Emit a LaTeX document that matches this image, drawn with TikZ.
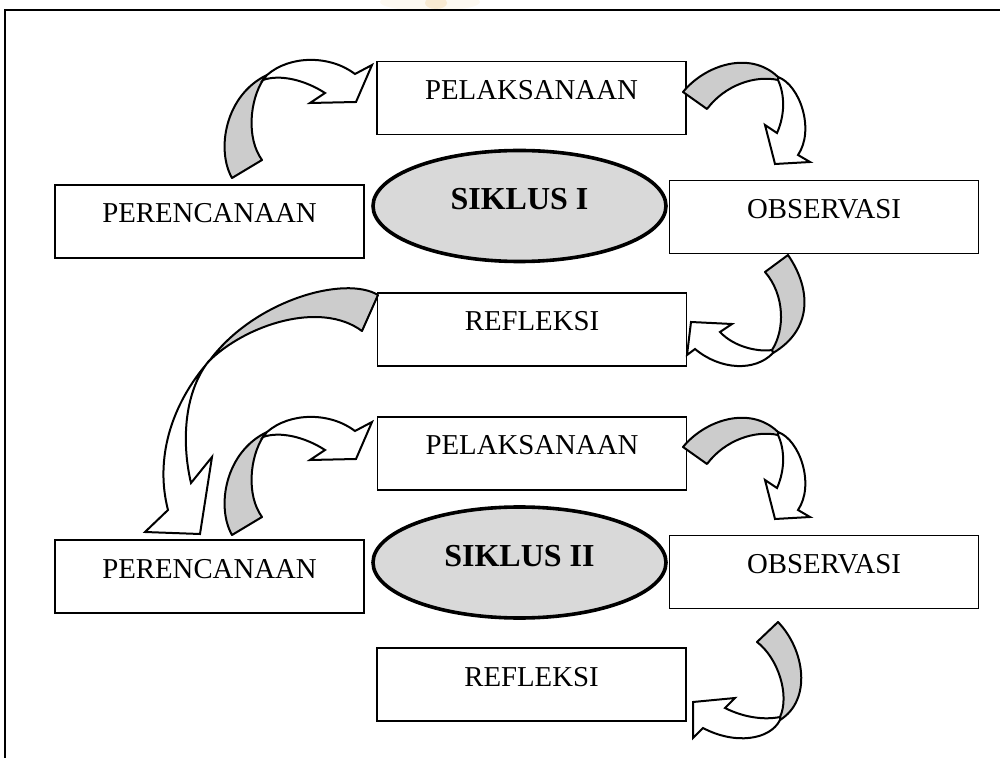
\documentclass[tikz,border=0pt]{standalone}
\usepackage{fontspec}
\setmainfont{Liberation Serif}
\usetikzlibrary{shapes.geometric}
\definecolor{ribbongrey}{RGB}{204,204,204}
\definecolor{ovalgrey}{RGB}{217,217,217}
\definecolor{markpale}{RGB}{253,249,241}
\definecolor{markgold}{RGB}{248,234,210}
\begin{document}
\begin{tikzpicture}[x=0.5pt,y=-0.5pt,
  stepbox/.style={draw, line width=0.8pt, inner sep=0pt,
    minimum width=154.5pt, text height=19pt, text depth=17.5pt,
    font=\fontsize{14.4}{17}\selectfont},
  oval/.style={ellipse, draw, line width=1.8pt, fill=ovalgrey, inner sep=0pt,
    minimum width=146.5pt, minimum height=55.5pt, text height=12pt, text depth=8pt,
    font=\fontsize{16}{19}\selectfont\bfseries},
  ribbonback/.style={draw, fill=ribbongrey, line width=1pt, line join=round},
  ribbonfront/.style={draw, fill=white, line width=1pt, line join=miter, miter limit=6}]
\useasboundingbox (0,0) rectangle (1000,758);
\clip (0,0) rectangle (1000,758);

% faint mark above the frame
\fill[markpale] (430,2) ellipse [x radius=50, y radius=9];
\fill[markgold] (436,3) ellipse [x radius=11, y radius=6];

% page frame
\draw[line width=1pt] (5,770) -- (5,10) -- (1010,10);

% cycle I
\node[stepbox] (pel1) at (531.5,98)  {PELAKSANAAN};
\node[stepbox] (per1) at (209.5,221.5) {PERENCANAAN};
\node[stepbox] (obs1) at (824,217)   {OBSERVASI};
\node[stepbox] (ref1) at (532,329.5) {REFLEKSI};
\node[oval]    (sik1) at (519.5,206) {SIKLUS I};

% cycle II
\node[stepbox] (pel2) at (532,453.5) {PELAKSANAAN};
\node[stepbox] (per2) at (209.5,576.5) {PERENCANAAN};
\node[stepbox] (obs2) at (824,572)   {OBSERVASI};
\node[stepbox] (ref2) at (531.5,684.5) {REFLEKSI};
\node[oval]    (sik2) at (519.5,562.5) {SIKLUS II};

% perencanaan -> pelaksanaan (both cycles)
\foreach \dy in {0,357}{
\begin{scope}[shift={(0,\dy)}]
\path[ribbonback] (232,178) .. controls (216,150) and (225,95) .. (267,75)
  -- (263,80) .. controls (250,100) and (246,138) .. (262,160) -- cycle;
\path[ribbonfront] (267,75) .. controls (290,55) and (330,55) .. (355,74)
  -- (372,65) -- (356,102) -- (310,103) -- (325,93)
  .. controls (305,80) and (280,74) .. (263,80) -- cycle;
\end{scope}}

% pelaksanaan -> observasi (both cycles)
\foreach \dy in {0,355}{
\begin{scope}[shift={(0,\dy)}]
\path[ribbonback] (683,92) .. controls (705,65) and (750,50) .. (778,77)
  -- (778,80) .. controls (755,75) and (725,85) .. (707,109) -- cycle;
\path[ribbonfront] (778,77) .. controls (800,85) and (815,130) .. (798,155)
  -- (810,162) -- (775,164) -- (765,125) -- (777,133)
  .. controls (785,115) and (785,95) .. (778,80) -- cycle;
\end{scope}}

% observasi -> refleksi, cycle I
\path[ribbonback] (765,272) -- (788,255) .. controls (812,290) and (812,330) .. (773,353)
  -- (772,350) .. controls (785,330) and (785,295) .. (765,272) -- cycle;
\path[ribbonfront] (773,353) .. controls (755,372) and (720,370) .. (695,349)
  -- (687,355) -- (691,322) -- (732,324) -- (720,332)
  .. controls (735,348) and (760,352) .. (772,350) -- cycle;

% refleksi I -> perencanaan II
\path[ribbonback] (378,295) .. controls (345,275) and (255,300) .. (210,360)
  -- (208,362) .. controls (245,325) and (320,300) .. (362,331) -- cycle;
\path[ribbonfront] (210,360) .. controls (170,405) and (155,460) .. (168,510)
  -- (145,532) -- (200,534) -- (212,457) -- (191,483)
  .. controls (182,445) and (183,395) .. (208,362) -- cycle;

% observasi -> refleksi, cycle II
\path[ribbonback] (757,642) -- (778,622) .. controls (805,650) and (812,700) .. (780,720)
  -- (780,717) .. controls (790,695) and (778,658) .. (757,642) -- cycle;
\path[ribbonfront] (780,720) .. controls (770,740) and (735,745) .. (703,728)
  -- (693,738) -- (693,702) -- (735,698) -- (725,708)
  .. controls (745,718) and (765,720) .. (780,717) -- cycle;
\end{tikzpicture}
\end{document}
